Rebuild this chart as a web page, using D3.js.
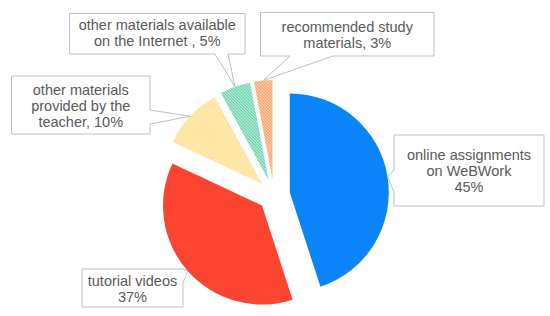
<!DOCTYPE html>
<html>
<head>
<meta charset="utf-8">
<script src="https://cdn.jsdelivr.net/npm/d3@7"></script>
<style>
  body { margin: 0; background: #fff; }
  svg { display: block; }
  .lbl { font-family: "Liberation Sans", Arial, sans-serif; font-size: 14.5px; fill: #595959; }
</style>
</head>
<body>
<div id="chart"></div>
<script>
// chart data
var categories = ["online assignments on WeBWork", "tutorial videos",
    "other materials provided by the teacher", "other materials available on the Internet ",
    "recommended study materials"];
var values = [45, 37, 10, 5, 3];
var labelLines = [
    ["online assignments", "on WeBWork", "45%"],
    ["tutorial videos", "37%"],
    ["other materials", "provided by the", "teacher, 10%"],
    ["other materials available", "on the Internet , 5%"],
    ["recommended study", "materials, 3%"]
];
var colors = ["#0A84F8", "#FC4530", "#FFD35C", "#2EC28C", "#F57A22"];
var hatched = [false, false, true, true, true];

var width = 550, height = 316;
var cx = 274, cy = 195, radius = 99, explode = 16;

var svg = d3.select("#chart").append("svg")
    .attr("width", width)
    .attr("height", height);

// hatch patterns for the small slices
var defs = svg.append("defs");
colors.forEach(function(c, i) {
    if (!hatched[i]) return;
    var p = defs.append("pattern")
        .attr("id", "hatch" + i)
        .attr("patternUnits", "userSpaceOnUse")
        .attr("width", 3)
        .attr("height", 3);
    p.append("rect").attr("width", 3).attr("height", 3).attr("fill", "#fff");
    p.append("path")
        .attr("d", "M-1,-1 L4,4 M-1,2 L1,4 M2,-1 L4,1")
        .attr("stroke", c)
        .attr("stroke-width", 1.2);
});

var pie = d3.pie().sort(null).value(function(d) { return d; });
var arcs = pie(values);

var arc = d3.arc().innerRadius(0).outerRadius(radius);
var edgeArc = d3.arc().innerRadius(radius).outerRadius(radius);

function offset(d) {
    var a = (d.startAngle + d.endAngle) / 2;
    return [Math.sin(a) * explode, -Math.cos(a) * explode];
}

var pieGroup = svg.append("g")
    .attr("transform", "translate(" + cx + "," + cy + ")");

pieGroup.selectAll("path")
    .data(arcs)
    .enter()
    .append("path")
    .attr("transform", function(d) {
        var o = offset(d);
        return "translate(" + o[0] + "," + o[1] + ")";
    })
    .attr("d", arc)
    .attr("fill", function(d, i) { return hatched[i] ? "url(#hatch" + i + ")" : colors[i]; });

// callout boxes (layout only)
var boxes = [
    {x: 394, y: 135, w: 150, h: 71, side: "left", b1: 170, b2: 192, lineY: 160},
    {x: 82, y: 269, w: 101, h: 38, side: "right", b1: 269, b2: 283, lineY: 286},
    {x: 11.5, y: 76, w: 138.5, h: 58, side: "right", b1: 110, b2: 124, lineY: 95},
    {x: 69.5, y: 13.5, w: 175.5, h: 40.5, side: "bottom", b1: 215, b2: 228, lineY: 30},
    {x: 260.5, y: 12.5, w: 173.5, h: 43.5, side: "bottom", b1: 290, b2: 333, lineY: 32}
];

function calloutPath(b, tip) {
    var x0 = b.x, y0 = b.y, x1 = b.x + b.w, y1 = b.y + b.h;
    var p = "M" + x0 + "," + y0 + " H" + x1;
    if (b.side === "right") {
        p += " V" + b.b1 + " L" + tip[0] + "," + tip[1] + " L" + x1 + "," + b.b2;
    }
    p += " V" + y1;
    if (b.side === "bottom") {
        p += " H" + b.b2 + " L" + tip[0] + "," + tip[1] + " L" + b.b1 + "," + y1;
    }
    p += " H" + x0;
    if (b.side === "left") {
        p += " V" + b.b2 + " L" + tip[0] + "," + tip[1] + " L" + x0 + "," + b.b1;
    }
    return p + " Z";
}

var labels = svg.append("g");

arcs.forEach(function(d, i) {
    var o = offset(d);
    var c = edgeArc.centroid(d);
    var tip = [cx + o[0] + c[0], cy + o[1] + c[1]];
    var b = boxes[i];

    labels.append("path")
        .attr("d", calloutPath(b, tip))
        .attr("fill", "#fff")
        .attr("stroke", "#BFBFBF")
        .attr("stroke-width", 1);

    var t = labels.append("text")
        .attr("class", "lbl")
        .attr("text-anchor", "middle");
    labelLines[i].forEach(function(line, k) {
        t.append("tspan")
            .attr("x", b.x + b.w / 2)
            .attr("y", b.lineY + k * 16)
            .text(line);
    });
});
</script>
</body>
</html>
